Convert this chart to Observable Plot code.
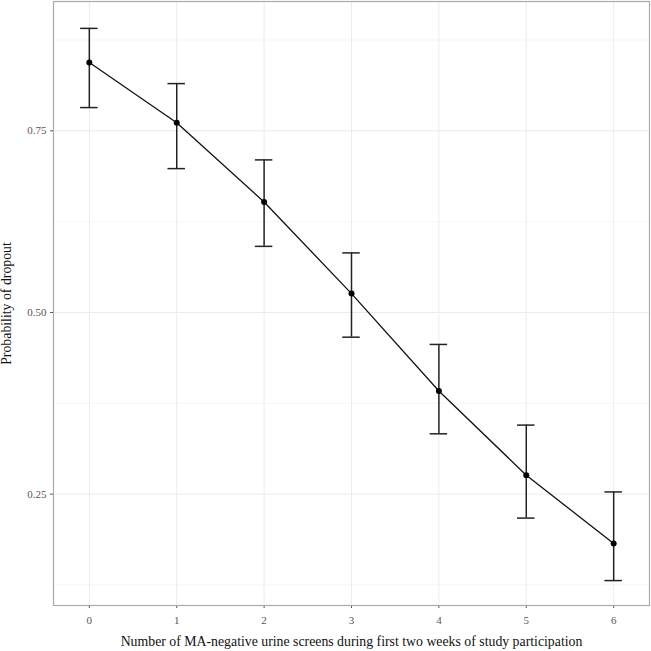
<!DOCTYPE html>
<html>
<head>
<meta charset="utf-8">
<script src="https://cdn.jsdelivr.net/npm/d3@7"></script>
<script src="https://cdn.jsdelivr.net/npm/@observablehq/plot@0.6"></script>
<style>
  html, body { margin: 0; padding: 0; background: #fff; }
</style>
</head>
<body>
<div id="chart"></div>
<script>
const screens = [0, 1, 2, 3, 4, 5, 6];
const prob    = [0.844, 0.761, 0.652, 0.526, 0.392, 0.276, 0.182];
const lower   = [0.782, 0.698, 0.591, 0.466, 0.333, 0.217, 0.131];
const upper   = [0.891, 0.815, 0.710, 0.582, 0.456, 0.345, 0.253];

const xTicks = [0, 1, 2, 3, 4, 5, 6];
const yTicks = [0.25, 0.50, 0.75];
const yMinor = [0.125, 0.375, 0.625, 0.875];
const yTickLabels = ["0.25", "0.50", "0.75"];

const data = screens.map((s, i) => ({x: s, p: prob[i], lo: lower[i], hi: upper[i]}));
const capHalf = 0.1;

const chart = Plot.plot({
  width: 651,
  height: 651,
  marginLeft: 53,
  marginRight: 2,
  marginTop: 1,
  marginBottom: 46,
  style: {fontFamily: "'Liberation Serif', 'DejaVu Serif', serif", background: "#fff", color: "#222"},
  x: {domain: [-0.41, 6.41]},
  y: {domain: [0.0967, 0.928]},
  marks: [
    Plot.ruleY(yMinor, {stroke: "#f2f2f2", strokeWidth: 0.8}),
    Plot.ruleY(yTicks, {stroke: "#ebebeb", strokeWidth: 1}),
    Plot.ruleX(xTicks, {stroke: "#ebebeb", strokeWidth: 1}),
    Plot.axisX({ticks: xTicks, tickFormat: d => String(d), tickSize: 3, tickPadding: 8, fontSize: 11, color: "#555",
      label: "Number of MA-negative urine screens during first two weeks of study participation",
      labelAnchor: "center", labelArrow: "none", labelOffset: 40}),
    Plot.axisY({ticks: yTicks, tickFormat: (d, i) => yTickLabels[i], tickSize: 3, tickPadding: 4, fontSize: 11, color: "#555",
      label: "Probability of dropout", labelAnchor: "center", labelArrow: "none", labelOffset: 52}),
    Plot.ruleX(data, {x: "x", y1: "lo", y2: "hi", stroke: "#222", strokeWidth: 1.5}),
    Plot.ruleY(data, {y: "hi", x1: d => d.x - capHalf, x2: d => d.x + capHalf, stroke: "#222", strokeWidth: 1.5}),
    Plot.ruleY(data, {y: "lo", x1: d => d.x - capHalf, x2: d => d.x + capHalf, stroke: "#222", strokeWidth: 1.5}),
    Plot.line(data, {x: "x", y: "p", stroke: "#111", strokeWidth: 1.3}),
    Plot.dot(data, {x: "x", y: "p", r: 3, fill: "#000", stroke: "none"}),
    Plot.frame({stroke: "#aaa", strokeWidth: 1.2})
  ]
});
chart.querySelectorAll("[aria-label='x-axis label'] text, [aria-label='y-axis label'] text").forEach(t => {
  t.setAttribute("font-size", "13.8");
  t.setAttribute("fill", "#111");
});
document.getElementById("chart").appendChild(chart);
</script>
</body>
</html>
